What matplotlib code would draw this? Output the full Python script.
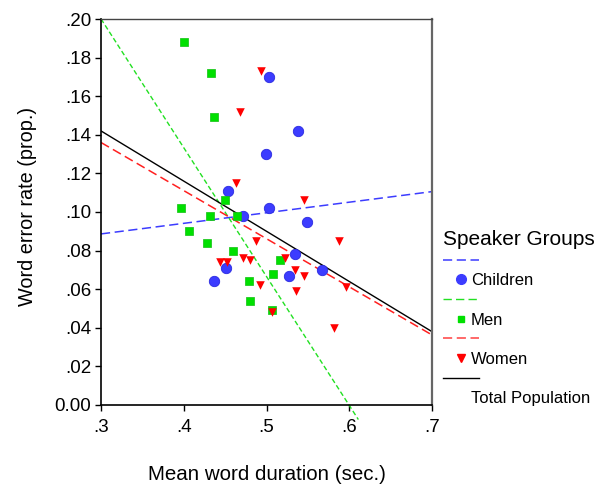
import matplotlib
matplotlib.use("Agg")
from matplotlib import pyplot as plt
from matplotlib.lines import Line2D
from matplotlib.ticker import FuncFormatter
import numpy as np

plt.rcParams['font.family'] = ['Liberation Sans', 'DejaVu Sans']

# mean word duration (sec.) / word error rate (prop.) per speaker
children_x = [0.503, 0.538, 0.499, 0.454, 0.503, 0.472, 0.549, 0.534, 0.527, 0.567, 0.451, 0.437]
children_y = [0.170, 0.142, 0.130, 0.111, 0.102, 0.098, 0.095, 0.078, 0.067, 0.070, 0.071, 0.064]

men_x = [0.400, 0.433, 0.436, 0.450, 0.397, 0.432, 0.464, 0.406, 0.428, 0.460,
         0.516, 0.508, 0.479, 0.480, 0.507]
men_y = [0.188, 0.172, 0.149, 0.106, 0.102, 0.098, 0.098, 0.090, 0.084, 0.080,
         0.075, 0.068, 0.064, 0.054, 0.049]

women_x = [0.493, 0.468, 0.463, 0.545, 0.487, 0.588, 0.444, 0.452, 0.471, 0.480,
           0.522, 0.535, 0.545, 0.492, 0.536, 0.596, 0.507, 0.582]
women_y = [0.173, 0.152, 0.115, 0.106, 0.085, 0.085, 0.074, 0.074, 0.076, 0.075,
           0.076, 0.070, 0.067, 0.062, 0.059, 0.061, 0.048, 0.040]

# linear fit lines (intercept, slope)
fit_children = (0.0722, 0.0548)
fit_men = (0.4003, -0.6675)
fit_women = (0.2108, -0.2493)
fit_total = (0.2200, -0.2600)

blue = '#3c3cff'
green = '#00e000'
red = '#ff0000'

fig = plt.figure(figsize=(6.1, 4.86), dpi=100)
ax = fig.add_axes([0.1656, 0.1667, 0.5426, 0.7942])

xs = np.array([0.3, 0.7])
xs_men = np.array([0.3, 0.611])
ax.plot(xs, fit_children[0] + fit_children[1] * xs, color=blue, lw=1.1, dashes=(6, 3))
ax.plot(xs_men, fit_men[0] + fit_men[1] * xs_men, color='#22e022', lw=1.0,
        dashes=(3.5, 2), clip_on=False)
ax.plot(xs, fit_women[0] + fit_women[1] * xs, color='#ff2020', lw=1.1, dashes=(6, 3))
ax.plot(xs, fit_total[0] + fit_total[1] * xs, color='black', lw=1.0)

ax.scatter(children_x, children_y, s=56, marker='o', color=blue, edgecolors='#2a2ae0',
           linewidths=0.6, zorder=3)
ax.scatter(men_x, men_y, s=30, marker='s', color=green, edgecolors='#10c010',
           linewidths=0.5, zorder=3)
ax.scatter(women_x, women_y, s=38, marker='v', color=red, linewidths=0, zorder=3)

ax.set_xlim(0.3, 0.7)
ax.set_ylim(0.0, 0.2)
ax.set_xticks(np.arange(0.3, 0.71, 0.1))
ax.set_yticks(np.arange(0.0, 0.201, 0.02))
ax.xaxis.set_major_formatter(FuncFormatter(lambda v, p: f'{v:.1f}'.lstrip('0')))
ax.yaxis.set_major_formatter(
    FuncFormatter(lambda v, p: '0.00' if abs(v) < 1e-9 else f'{v:.2f}'.lstrip('0')))
ax.tick_params(labelsize=13.5, length=4, width=1, color='black')
ax.tick_params(axis='x', pad=6)
ax.tick_params(axis='y', pad=3)

for side in ['left', 'bottom']:
    ax.spines[side].set_color('black')
    ax.spines[side].set_linewidth(1.2)
ax.spines['top'].set_color('#444444')
ax.spines['top'].set_linewidth(1.0)
ax.spines['right'].set_color('#666666')
ax.spines['right'].set_linewidth(1.6)

ax.set_xlabel('Mean word duration (sec.)', fontsize=14.8)
ax.set_ylabel('Word error rate (prop.)', fontsize=14.3)
ax.xaxis.set_label_coords(0.5, -0.156)
ax.yaxis.set_label_coords(-0.193, 0.515)

blank = Line2D([], [], linestyle='none')
handles = [
    Line2D([], [], color=blue, lw=1.1, dashes=(6, 3)),
    Line2D([], [], color=blue, marker='o', linestyle='none', markersize=7),
    Line2D([], [], color='#22e022', lw=1.0, dashes=(6, 3)),
    Line2D([], [], color=green, marker='s', linestyle='none', markersize=5),
    Line2D([], [], color='#ff4040', lw=1.1, dashes=(6, 3)),
    Line2D([], [], color=red, marker='v', linestyle='none', markersize=6),
    Line2D([], [], color='black', lw=1.0),
    blank,
]
labels = ['', 'Children', '', 'Men', '', 'Women', '', 'Total Population']
leg = fig.legend(handles, labels, loc='upper left', bbox_to_anchor=(0.7255, 0.527),
                 frameon=False, fontsize=12, title='Speaker Groups',
                 title_fontsize=15, handlelength=2.2, handletextpad=-0.5,
                 labelspacing=0.28, borderpad=0, borderaxespad=0)
leg._legend_box.align = 'left'

fig.savefig('out.png', dpi=100)
